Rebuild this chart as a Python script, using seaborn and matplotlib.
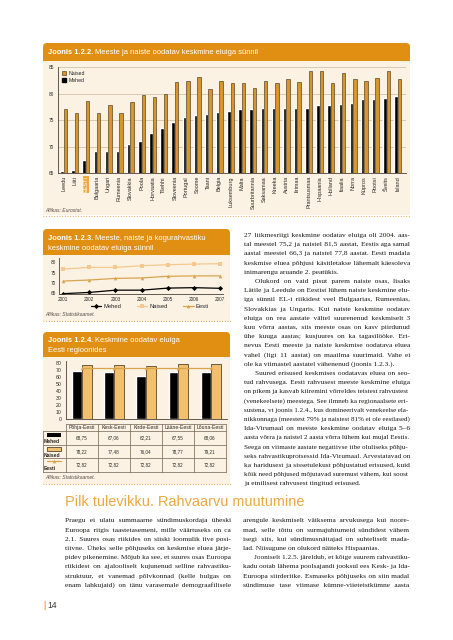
import numpy as np
import pandas as pd
import matplotlib
matplotlib.use("Agg")
import matplotlib.pyplot as plt
import seaborn as sns
from matplotlib.patches import FancyBboxPatch, Rectangle, Patch
from matplotlib.lines import Line2D

# Joonis 1.2.2 - oodatav eluiga sünnil riigiti
countries = ["Leedu", "Läti", "EESTI", "Bulgaaria", "Ungari", "Rumeenia", "Slovakkia",
             "Poola", "Horvaatia", "Tšehhi", "Sloveenia", "Portugal", "Soome", "Taani",
             "Belgia", "Luksemburg", "Malta", "Suurbritannia", "Saksamaa", "Kreeka",
             "Austria", "Iirimaa", "Prantsusmaa", "Hispaania", "Holland", "Itaalia",
             "Norra", "Küpros", "Rootsi", "Šveits", "Island"]
naised = [77.1, 76.4, 78.6, 76.4, 77.9, 76.3, 78.4, 79.8, 79.4, 80.0, 82.1, 82.3, 83.1, 80.8,
          82.3, 81.9, 81.9, 81.1, 82.4, 81.9, 82.8, 82.1, 84.3, 84.3, 81.9, 83.8, 82.8, 82.4,
          83.0, 84.2, 82.8]
mehed = [65.4, 65.6, 67.5, 69.2, 69.2, 69.2, 70.5, 71.0, 72.6, 73.6, 74.6, 75.6, 76.0, 76.2,
         76.6, 76.8, 77.1, 77.1, 77.2, 77.2, 77.3, 77.3, 77.3, 77.8, 77.8, 78.0, 78.2, 78.9,
         78.9, 79.2, 79.6]

# Joonis 1.2.3 - Eesti ajas
years = [2001, 2002, 2003, 2004, 2005, 2006, 2007]
trend_mehed = [64.9, 65.5, 66.6, 66.6, 67.6, 67.8, 67.5]
trend_naised = [76.8, 77.6, 77.6, 78.4, 78.9, 79.2, 79.4]
trend_eesti = [71.0, 71.5, 72.3, 72.5, 73.3, 73.5, 73.5]

# Joonis 1.2.4 - regioonid
regions = ["Põhja-Eesti", "Kesk-Eesti", "Kirde-Eesti", "Lääne-Eesti", "Lõuna-Eesti"]
reg_mehed = [68.75, 67.06, 62.21, 67.55, 68.06]
reg_naised = [78.22, 77.48, 76.04, 78.77, 79.21]
reg_eesti = [72.82, 72.82, 72.82, 72.82, 72.82]

right_col = [
    "27 liikmesriigi keskmine oodatav eluiga oli 2004. aas-",
    "tal meestel 75,2 ja naistel 81,5 aastat, Eestis aga samal",
    "aastal meestel 66,3 ja naistel 77,8 aastat. Eesti madala",
    "keskmise eluea põhjusi käsitletakse lähemalt käesoleva",
    "inimarengu aruande 2. peatükis.",
    "\tOlukord on vaid pisut parem naiste osas, lisaks",
    "Lätile ja Leedule on Eestist lühem naiste keskmine elu-",
    "iga sünnil EL-i riikidest veel Bulgaarias, Rumeenias,",
    "Slovakkias ja Ungaris. Kui naiste keskmine oodatav",
    "eluiga on rea aastate vältel suurenenud keskmiselt 3",
    "kuu võrra aastas, siis meeste osas on kasv piirdunud",
    "ühe kuuga aastas; kusjuures on ka tagasilööke. Eri-",
    "nevus Eesti meeste ja naiste keskmise oodatava eluea",
    "vahel (ligi 11 aastat) on maailma suurimaid. Vahe ei",
    "ole ka viimastel aastatel vähenenud (joonis 1.2.3.).",
    "\tSuured erisused keskmises oodatavas eluea on seo-",
    "tud rahvusega. Eesti rahvusest meeste keskmine eluiga",
    "on pikem ja kasvab kiiremini võrreldes teistest rahvustest",
    "(venekeelsete) meestega. See ilmneb ka regionaalsete eri-",
    "sustena, vt joonis 1.2.4., kus domineerivalt venekeelse ela-",
    "nikkonnaga (meestest 79% ja naistest 81% ei ole eestlased)",
    "Ida-Virumaal on meeste keskmine oodatav eluiga 5–6",
    "aasta võrra ja naistel 2 aasta võrra lühem kui mujal Eestis.",
    "Seega on viimaste aastate negatiivse iibe oluliseks põhju-",
    "seks rahvastikuprotsessid Ida-Virumaal. Arvestatavad on",
    "ka haridusest ja sissetulekust põhjustatud erisused, kuid",
    "kõik need põhjused mõjutavad suremust vähem, kui soost",
    "ja etnilisest rahvusest tingitud erisused.",
]
right_ends = {4, 14, 27}

bottom_left = [
    "Praegu ei ulatu summaarne sündimuskordaja üheski",
    "Euroopa riigis taastetasemeni, mille väärtuseks on ca",
    "2.1. Suures osas riikides on siiski loomulik iive posi-",
    "tiivne. Üheks selle põhjuseks on keskmise eluea järje-",
    "pidev pikenemine. Mõjub ka see, et suures osas Euroopa",
    "riikidest on ajalooliselt kujunenud selline rahvastiku-",
    "struktuur, et vanemad põlvkonnad (kelle hulgas on",
    "enam lahkujaid) on tänu varasemale demograafilisele",
]
bottom_right = [
    "arengule keskmiselt väiksema arvukusega kui noore-",
    "mad, selle tõttu on surmajuhtumeid sündidest vähem",
    "isegi siis, kui sündimusnäitajad on suhteliselt mada-",
    "lad. Niisugune on olukord näiteks Hispaanias.",
    "\tJooniselt 1.2.5. järeldub, et kõige suurem rahvastiku-",
    "kadu ootab lähema poolsajandi jooksul ees Kesk- ja Ida-",
    "Euroopa siirderiike. Esmaseks põhjuseks on siin madal",
    "sündimuse tase viimase kümne-viieteistkümne aasta",
]

ORANGE = "#E08F12"
CREAM = "#FBF2E4"
GOLD = "#D8952C"
EDGE = "#3A2A12"
TAN_LIGHT = "#F4C88E"
TAN = "#D9A44E"
TAN_BAR = "#F1BF6E"
HEAD = "#EDA843"
DOT = "#D8A552"
GRID = "#D3C3A9"
INK = "#2E2A26"
BODY = "#1A1714"
LINE = "#6E6152"
SERIF = ["Liberation Serif", "DejaVu Serif"]
HAIR = "\u200a"

sns.set_theme(style="white")
plt.rcParams["font.family"] = ["Liberation Sans", "DejaVu Sans"]

W, H = 453, 640
fig = plt.figure(figsize=(W / 100, H / 100), dpi=100)
fig.patch.set_facecolor("white")
bg = fig.add_axes([0, 0, 1, 1], zorder=-5)
bg.set_xlim(0, W)
bg.set_ylim(H, 0)
bg.axis("off")
renderer = fig.canvas.get_renderer()


def box(x0, y0, x1, y1):
    return [x0 / W, 1 - y1 / H, (x1 - x0) / W, (y1 - y0) / H]


def width(t):
    return t.get_window_extent(renderer).width


def header(x0, y0, x1, y1):
    bg.add_patch(FancyBboxPatch((x0, y0), x1 - x0, y1 - y0,
                                boxstyle="round,pad=0,rounding_size=4", fc=ORANGE, ec="none"))
    bg.add_patch(Rectangle((x0, y0 + 5), x1 - x0, y1 - y0 - 5, fc=ORANGE, ec="none"))


def title(x, y, bold, rest, size=5.4):
    t = bg.text(x, y, bold, color="white", weight="bold", fontsize=size, va="baseline")
    bg.text(x + width(t) + 2, y, rest, color="white", fontsize=size, va="baseline")


def para(x0, x1, y0, lines, ends, size=5.3, lh=9.2):
    kw = dict(fontsize=size, va="baseline", ha="left", color=BODY, family=SERIF)
    # hair space width for this size
    p1 = bg.text(0, 0, "a" + HAIR * 20 + "a", **kw)
    p2 = bg.text(0, 0, "aa", **kw)
    hw = (width(p1) - width(p2)) / 20
    p1.remove()
    p2.remove()
    for i, ln in enumerate(lines):
        y = y0 + i * lh + 2.4
        indent = 0
        if ln.startswith("\t"):
            indent = 11
            ln = ln[1:]
        words = ln.split(" ")
        t = bg.text(x0 + indent, y, ln, **kw)
        room = x1 - x0 - indent
        nat = width(t)
        if nat > room:
            t.set_fontsize(size * room / nat)
            continue
        if i in ends or len(words) < 2:
            continue
        k = int(round((room - nat) / hw))
        if k <= 0:
            continue
        gaps = len(words) - 1
        parts = []
        for j, w in enumerate(words):
            parts.append(w)
            if j < gaps:
                parts.append(" " + HAIR * (k // gaps + (1 if j < k % gaps else 0)))
        t.set_text("".join(parts))


def dotted(x0, x1, y):
    bg.plot([x0, x1], [y, y], color=DOT, lw=0.8, ls=(0, (0.8, 1.6)))


def source(x, y, txt):
    bg.text(x, y, txt, fontsize=3.6, style="italic", color="#5A5148", va="center")


# ---------- Joonis 1.2.2 ----------
bg.add_patch(Rectangle((43, 61), 367, 154, fc=CREAM, ec="none"))
header(43, 43, 410, 61)
title(48, 54.2, "Joonis 1.2.2.", "Meeste ja naiste oodatav keskmine eluiga sünnil")

ax1 = fig.add_axes(box(58, 67, 406, 173.3))
ax1.set_facecolor("none")
df = pd.DataFrame({"riik": countries * 2,
                   "sugu": ["Mehed"] * len(countries) + ["Naised"] * len(countries),
                   "eluiga": mehed + naised})
sns.barplot(data=df, x="riik", y="eluiga", hue="sugu", hue_order=["Mehed", "Naised"],
            palette={"Mehed": "black", "Naised": GOLD}, width=0.62, gap=0,
            saturation=1, legend=False, ax=ax1)
for bar in ax1.containers[1]:
    bar.set_edgecolor(EDGE)
    bar.set_linewidth(0.4)
ax1.set_ylim(65, 85)
ax1.set_xlim(-0.5, 30.75)
ax1.set_yticks([65, 70, 75, 80, 85])
ax1.yaxis.grid(True, color=GRID, lw=0.6)
ax1.set_axisbelow(True)
ax1.set_xlabel("")
ax1.set_ylabel("")
ax1.tick_params(axis="y", labelsize=3.4, length=0, pad=3, labelcolor=INK)
ax1.tick_params(axis="x", labelsize=4.0, length=0, pad=2, labelcolor=INK)
ax1.set_xticks(range(len(countries)))
ax1.set_xticklabels(countries, rotation=90, va="top", ha="center")
lab = ax1.get_xticklabels()[countries.index("EESTI")]
lab.set_color("white")
lab.set_bbox(dict(fc=HEAD, ec="none", pad=0.4))
for s in ["top", "right"]:
    ax1.spines[s].set_visible(False)
for s in ["left", "bottom"]:
    ax1.spines[s].set_color("#4A4038")
    ax1.spines[s].set_linewidth(0.6)
ax1.legend(handles=[Patch(fc=GOLD, ec=EDGE, lw=0.4), Patch(fc="black", ec="black")],
           labels=["Naised", "Mehed"], loc="upper left", frameon=False, fontsize=3.8,
           handlelength=0.75, handleheight=0.75, handletextpad=0.5, labelspacing=0.25,
           borderaxespad=0.6, borderpad=0.2)
source(45, 211, "Allikas: Eurostat.")
dotted(43, 410, 215.5)

# ---------- Joonis 1.2.3 ----------
bg.add_patch(Rectangle((43, 255), 187, 66, fc=CREAM, ec="none"))
header(43, 229, 230, 255)
title(48, 239.5, "Joonis 1.2.3.", "Meeste, naiste ja kogurahvastiku")
bg.text(48, 250, "keskmine oodatav eluiga sünnil", color="white", fontsize=5.4, va="baseline")

ax2 = fig.add_axes(box(59, 258.3, 223, 294.3))
ax2.set_facecolor("none")
trend = pd.DataFrame({"aasta": years * 3,
                      "eluiga": trend_mehed + trend_naised + trend_eesti,
                      "rühm": ["Mehed"] * 7 + ["Naised"] * 7 + ["Eesti"] * 7})
sns.lineplot(data=trend, x="aasta", y="eluiga", hue="rühm", style="rühm",
             palette={"Mehed": "black", "Naised": TAN_LIGHT, "Eesti": TAN},
             markers={"Mehed": "D", "Naised": "s", "Eesti": "^"}, dashes=False,
             markersize=2.6, linewidth=0.9, markeredgewidth=0, errorbar=None,
             legend=False, ax=ax2)
ax2.set_xlim(2000.84, 2007.11)
ax2.set_ylim(64.6, 82)
ax2.set_xticks(years)
ax2.set_yticks([65, 70, 75, 80])
ax2.set_xlabel("")
ax2.set_ylabel("")
ax2.tick_params(labelsize=3.4, length=0, pad=2, labelcolor=INK)
for s in ["top", "right"]:
    ax2.spines[s].set_visible(False)
for s in ["left", "bottom"]:
    ax2.spines[s].set_color("#4A4038")
    ax2.spines[s].set_linewidth(0.6)
h2 = [Line2D([], [], color="black", marker="D", ms=2.6, lw=0.9, mew=0),
      Line2D([], [], color=TAN_LIGHT, marker="s", ms=2.6, lw=0.9, mew=0),
      Line2D([], [], color=TAN, marker="^", ms=2.6, lw=0.9, mew=0)]
fig.legend(h2, ["Mehed", "Naised", "Eesti"], loc="center",
           bbox_to_anchor=(150 / W, 1 - 306 / H), ncol=3, frameon=False, fontsize=4.2,
           handlelength=1.8, handletextpad=0.4, columnspacing=2.6)
source(45, 314, "Allikas: Statistikaamet.")
dotted(43, 231, 321)

# ---------- Joonis 1.2.4 ----------
bg.add_patch(Rectangle((43, 357), 187, 127, fc=CREAM, ec="none"))
header(43, 332, 230, 357)
title(48, 342.5, "Joonis 1.2.4.", "Keskmine oodatav eluiga")
bg.text(48, 352.5, "Eesti regioonides", color="white", fontsize=5.4, va="baseline")

ax3 = fig.add_axes(box(66, 361, 226.7, 419))
ax3.set_facecolor("none")
reg = pd.DataFrame({"regioon": regions * 2,
                    "sugu": ["Mehed"] * 5 + ["Naised"] * 5,
                    "eluiga": reg_mehed + reg_naised})
sns.barplot(data=reg, x="regioon", y="eluiga", hue="sugu", hue_order=["Mehed", "Naised"],
            palette={"Mehed": "black", "Naised": TAN_BAR}, width=0.62, gap=0,
            saturation=1, legend=False, ax=ax3)
for bar in ax3.containers[1]:
    bar.set_edgecolor(EDGE)
    bar.set_linewidth(0.5)
sns.lineplot(x=np.arange(len(regions)), y=reg_eesti, color=TAN, marker="^", markersize=2.6,
             markeredgewidth=0, linewidth=0.9, ax=ax3)
ax3.set_ylim(0, 83.3)
ax3.set_xlim(-0.5, 4.5)
ax3.set_yticks(range(0, 81, 10))
ax3.set_xticks([])
ax3.set_xlabel("")
ax3.set_ylabel("")
ax3.tick_params(labelsize=3.7, length=0, pad=3, labelcolor=INK)
for s in ["top", "right"]:
    ax3.spines[s].set_visible(False)
for s in ["left", "bottom"]:
    ax3.spines[s].set_color("#4A4038")
    ax3.spines[s].set_linewidth(0.6)

# tabel
xe = np.linspace(66, 226, len(regions) + 1)
ye = [424, 431, 445, 458, 472]
bg.plot([66, 226], [ye[0], ye[0]], color=LINE, lw=0.5)
for y in ye[1:]:
    bg.plot([43, 226], [y, y], color=LINE, lw=0.5)
for x in xe:
    bg.plot([x, x], [ye[0], ye[-1]], color=LINE, lw=0.5)
bg.plot([43, 43], [ye[1], ye[-1]], color=LINE, lw=0.5)
fmt = lambda v: f"{v:.2f}".replace(".", ",")
for i, r in enumerate(regions):
    cx = (xe[i] + xe[i + 1]) / 2
    bg.text(cx, 427.7, r, fontsize=3.7, ha="center", va="center", color=INK)
    bg.text(cx, 438, fmt(reg_mehed[i]), fontsize=3.3, ha="center", va="center", color=INK)
    bg.text(cx, 451.5, fmt(reg_naised[i]), fontsize=3.3, ha="center", va="center", color=INK)
    bg.text(cx, 465, fmt(reg_eesti[i]), fontsize=3.3, ha="center", va="center", color=INK)
bg.add_patch(Rectangle((46.5, 433), 14.5, 4, fc="black", ec="none"))
bg.add_patch(Rectangle((46.5, 447), 14.5, 4, fc=TAN_BAR, ec=EDGE, lw=0.5))
bg.plot([46.5, 61], [461, 461], color=TAN, lw=0.9)
bg.plot([53.7], [461], color=TAN, marker="^", ms=2.6, mew=0)
for y, t in zip([441.6, 455.2, 468.6], ["Mehed", "Naised", "Eesti"]):
    bg.text(44, y, t, fontsize=3.6, weight="bold", color=INK, va="center")
source(45, 477.7, "Allikas: Statistikaamet.")
dotted(43, 231, 484)

# ---------- tekst ----------
para(244, 410, 234.5, right_col, right_ends)

t = bg.text(65, 501.7, "Pilk tulevikku. Rahvaarvu muutumine", fontsize=9.4,
            color=HEAD, va="center")
t.set_fontsize(9.4 * 238 / width(t))

para(65, 231, 520, bottom_left, set())
para(243, 409, 520, bottom_right, {3})

bg.text(43, 606, "|", color=HEAD, fontsize=6.2, va="center", weight="bold")
bg.text(47, 606, "14", color="#3A3530", fontsize=6.2, va="center")

fig.savefig("out.png", dpi=100)
